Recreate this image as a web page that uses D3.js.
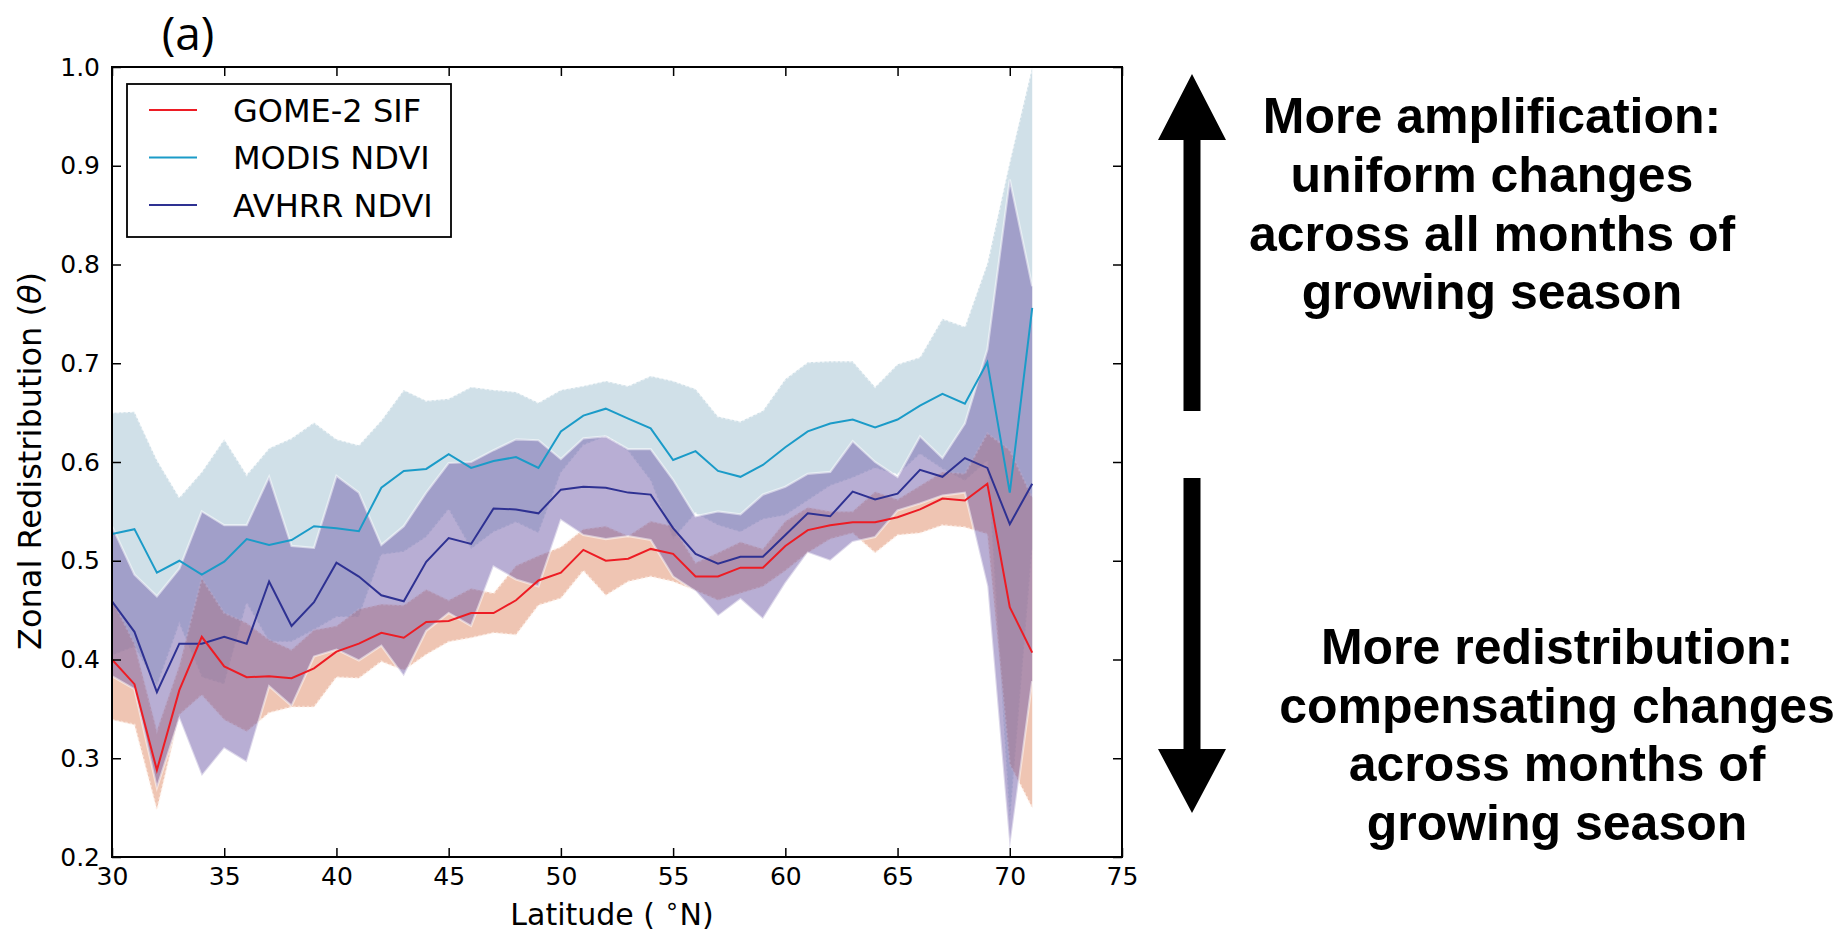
<!DOCTYPE html>
<html>
<head>
<meta charset="utf-8">
<script src="https://cdn.jsdelivr.net/npm/d3@7"></script>
<style>
  html, body { margin: 0; padding: 0; background: #fff; }
  svg { display: block; }
</style>
</head>
<body>
<svg id="chart" width="1848" height="932"></svg>
<script>
// Latitude bins (degrees N)
const latitudes = [30,31,32,33,34,35,36,37,38,39,40,41,42,43,44,45,46,47,48,49,50,
                   51,52,53,54,55,56,57,58,59,60,61,62,63,64,65,66,67,68,69,70,71];

// GOME-2 SIF zonal redistribution and its spread
const sifMean = [.400,.375,.288,.369,.423,.393,.382,.383,.381,.391,.408,.416,.427,.422,.438,.439,.447,.447,.460,.480,.488,
                 .511,.500,.502,.512,.507,.484,.484,.493,.493,.515,.531,.536,.539,.539,.544,.552,.563,.561,.578,.453,.407];
const sifLow  = [.339,.334,.248,.344,.364,.339,.327,.346,.352,.352,.382,.381,.398,.389,.405,.418,.422,.427,.425,.455,.462,
                 .490,.465,.479,.484,.479,.470,.460,.467,.474,.490,.508,.522,.528,.508,.526,.528,.536,.534,.527,.294,.250];
const sifHigh = [.461,.416,.328,.394,.482,.447,.437,.420,.410,.430,.434,.451,.456,.455,.471,.460,.472,.467,.495,.505,.514,
                 .532,.535,.525,.540,.535,.498,.508,.519,.512,.540,.554,.550,.550,.570,.562,.576,.590,.588,.629,.612,.564];

// MODIS NDVI
const modisMean = [.527,.532,.488,.500,.486,.499,.522,.516,.521,.535,.533,.530,.574,.591,.593,.608,.594,.601,.605,.594,.631,
                   .647,.654,.644,.634,.602,.611,.591,.585,.597,.615,.631,.639,.643,.635,.643,.657,.669,.659,.701,.569,.756];
const modisLow  = [.404,.413,.373,.436,.382,.375,.457,.418,.418,.430,.443,.443,.506,.509,.524,.552,.512,.529,.539,.528,.589,
                   .617,.626,.611,.581,.522,.548,.536,.529,.542,.546,.561,.576,.584,.594,.587,.608,.593,.581,.601,.234,.512];
const modisHigh = [.650,.651,.602,.564,.590,.623,.587,.614,.624,.640,.623,.617,.642,.673,.662,.664,.676,.673,.671,.660,.673,
                   .677,.682,.677,.687,.682,.674,.646,.641,.652,.684,.701,.702,.702,.676,.699,.706,.745,.737,.801,.904,1.000];

// AVHRR NDVI
const avhrrMean = [.459,.428,.367,.416,.416,.423,.416,.479,.434,.458,.498,.484,.465,.459,.499,.523,.517,.553,.552,.548,.572,
                   .575,.574,.569,.567,.533,.507,.497,.504,.504,.526,.548,.545,.570,.562,.568,.592,.585,.604,.594,.537,.578];
const avhrrLow  = [.383,.370,.270,.340,.282,.310,.296,.373,.353,.403,.410,.399,.414,.383,.429,.447,.434,.494,.481,.474,.541,
                   .526,.522,.525,.521,.484,.469,.444,.461,.441,.477,.508,.500,.519,.524,.551,.558,.566,.569,.474,.208,.378];
const avhrrHigh = [.535,.486,.464,.492,.550,.536,.536,.585,.515,.513,.586,.569,.516,.535,.569,.599,.600,.612,.623,.622,.603,
                   .624,.626,.613,.613,.582,.545,.550,.547,.567,.575,.588,.590,.621,.600,.585,.626,.604,.639,.714,.886,.778];

// Axis ticks
const xTicks = [30,35,40,45,50,55,60,65,70,75];
const yTicks = [0.2,0.3,0.4,0.5,0.6,0.7,0.8,0.9,1.0];

const legendLabels = ["GOME-2 SIF", "MODIS NDVI", "AVHRR NDVI"];
const upperNote = ["More amplification:", "uniform changes", "across all months of", "growing season"];
const lowerNote = ["More redistribution:", "compensating changes", "across months of", "growing season"];

(function draw() {
  const svg = d3.select("#chart");
  const pL = 112, pR = 1122, pT = 67, pB = 857;

  const x = d3.scaleLinear().domain([30, 75]).range([pL, pR]);
  const y = d3.scaleLinear().domain([0.2, 1.0]).range([pB, pT]);

  const series = [
    {name: "sif",   mean: sifMean,   lo: sifLow,   hi: sifHigh,   line: "#ed1c24"},
    {name: "modis", mean: modisMean, lo: modisLow, hi: modisHigh, line: "#1b9bc8"},
    {name: "avhrr", mean: avhrrMean, lo: avhrrLow, hi: avhrrHigh, line: "#2e3192"}
  ];
  const byName = Object.fromEntries(series.map(s => [s.name, s]));

  svg.append("defs").append("clipPath").attr("id", "plotClip")
    .append("rect").attr("x", pL).attr("y", pT).attr("width", pR - pL).attr("height", pB - pT);

  const plot = svg.append("g").attr("clip-path", "url(#plotClip)");

  const band = s => d3.area()
    .x((d, i) => x(latitudes[i]))
    .y0((d, i) => y(s.lo[i]))
    .y1((d, i) => y(s.hi[i]));
  const edge = arr => d3.line().x((d, i) => x(latitudes[i])).y((d, i) => y(arr[i]));

  function drawBand(s, fill, opacity, edgeColor, edgeOpacity, dash) {
    plot.append("path").datum(s.mean).attr("d", band(s))
      .attr("fill", fill).attr("fill-opacity", opacity).attr("stroke", "none");
    [s.lo, s.hi].forEach(arr => {
      plot.append("path").datum(arr).attr("d", edge(arr))
        .attr("fill", "none").attr("stroke", edgeColor).attr("stroke-opacity", edgeOpacity)
        .attr("stroke-width", 2.2).attr("stroke-dasharray", dash).attr("stroke-linejoin", "miter");
    });
  }

  // Spread bands: MODIS underneath, then SIF, then AVHRR on top
  drawBand(byName.modis, "#d0e0e8", 1, "#ffffff", 0.55, "2.5,2");
  drawBand(byName.sif, "rgb(223,139,103)", 0.5, "#fff4ec", 0.55, "2.5,2");
  drawBand(byName.avhrr, "rgb(113,93,169)", 0.5, "#ffffff", 0.5, null);

  // Mean lines
  ["modis", "avhrr", "sif"].forEach(n => {
    const s = byName[n];
    plot.append("path").datum(s.mean)
      .attr("d", d3.line().x((d, i) => x(latitudes[i])).y(d => y(d)))
      .attr("fill", "none").attr("stroke", s.line).attr("stroke-width", 2)
      .attr("stroke-linejoin", "miter");
  });

  // Axes: inward ticks on all four sides
  const tickLen = 9;
  const fontTicks = "DejaVu Sans, sans-serif";
  const gx = svg.append("g").attr("transform", `translate(0,${pB})`)
    .call(d3.axisBottom(x).tickValues(xTicks).tickFormat(d3.format("d")).tickSize(-tickLen).tickPadding(10));
  const gy = svg.append("g").attr("transform", `translate(${pL},0)`)
    .call(d3.axisLeft(y).tickValues(yTicks).tickFormat(d3.format(".1f")).tickSize(-tickLen).tickPadding(12));
  const gt = svg.append("g").attr("transform", `translate(0,${pT})`)
    .call(d3.axisTop(x).tickValues(xTicks).tickFormat("").tickSize(-tickLen));
  const gr = svg.append("g").attr("transform", `translate(${pR},0)`)
    .call(d3.axisRight(y).tickValues(yTicks).tickFormat("").tickSize(-tickLen));
  [gx, gy, gt, gr].forEach(g => {
    g.select(".domain").remove();
    g.selectAll(".tick line").attr("stroke", "#000").attr("stroke-width", 1.5);
    g.selectAll(".tick text").attr("fill", "#000").attr("font-family", fontTicks).attr("font-size", 25);
  });

  svg.append("rect").attr("x", pL).attr("y", pT).attr("width", pR - pL).attr("height", pB - pT)
    .attr("fill", "none").attr("stroke", "#000").attr("stroke-width", 2);

  // Axis titles
  const xt = svg.append("text").attr("x", 612).attr("y", 925).attr("text-anchor", "middle")
    .attr("font-family", fontTicks).attr("font-size", 30).attr("fill", "#000");
  xt.append("tspan").text("Latitude ( ");
  xt.append("tspan").text("∘").attr("font-size", 24).attr("dy", -11);
  xt.append("tspan").text("N)").attr("dy", 11);

  const yt = svg.append("text").attr("transform", "translate(41,461) rotate(-90)").attr("text-anchor", "middle")
    .attr("font-family", fontTicks).attr("font-size", 32).attr("fill", "#000");
  yt.append("tspan").text("Zonal Redistribution (");
  yt.append("tspan").text("θ").attr("font-style", "italic");
  yt.append("tspan").text(")");

  // Panel letter
  svg.append("text").attr("x", 188).attr("y", 50).attr("text-anchor", "middle")
    .attr("font-family", "Open Sans, sans-serif").attr("font-size", 46).attr("fill", "#000").text("(a)");

  // Legend
  const lg = svg.append("g");
  lg.append("rect").attr("x", 127).attr("y", 84).attr("width", 324).attr("height", 153)
    .attr("fill", "#fff").attr("stroke", "#000").attr("stroke-width", 1.8);
  ["sif", "modis", "avhrr"].forEach((n, i) => {
    const yy = 110 + i * 47.5;
    lg.append("line").attr("x1", 149).attr("x2", 197).attr("y1", yy).attr("y2", yy)
      .attr("stroke", byName[n].line).attr("stroke-width", 2);
    lg.append("text").attr("x", 233).attr("y", yy).attr("dy", "0.36em")
      .attr("font-family", fontTicks).attr("font-size", 32).attr("fill", "#000").text(legendLabels[i]);
  });

  // Interpretation arrows
  const ax = 1192, headHalf = 34, shaftHalf = 8.5;
  svg.append("path").attr("fill", "#000").attr("d",
    `M${ax},74 L${ax + headHalf},140 L${ax + shaftHalf},140 L${ax + shaftHalf},411 L${ax - shaftHalf},411 L${ax - shaftHalf},140 L${ax - headHalf},140 Z`);
  svg.append("path").attr("fill", "#000").attr("d",
    `M${ax},813 L${ax + headHalf},749 L${ax + shaftHalf},749 L${ax + shaftHalf},478 L${ax - shaftHalf},478 L${ax - shaftHalf},749 L${ax - headHalf},749 Z`);

  const noteFont = "Liberation Sans, Arial, sans-serif";
  upperNote.forEach((t, i) => {
    svg.append("text").attr("x", 1492).attr("y", 133 + i * 58.8).attr("text-anchor", "middle")
      .attr("font-family", noteFont).attr("font-weight", "bold").attr("font-size", 50).attr("fill", "#000").text(t);
  });
  lowerNote.forEach((t, i) => {
    svg.append("text").attr("x", 1557).attr("y", 664 + i * 58.5).attr("text-anchor", "middle")
      .attr("font-family", noteFont).attr("font-weight", "bold").attr("font-size", 50).attr("fill", "#000").text(t);
  });
})();
</script>
</body>
</html>
